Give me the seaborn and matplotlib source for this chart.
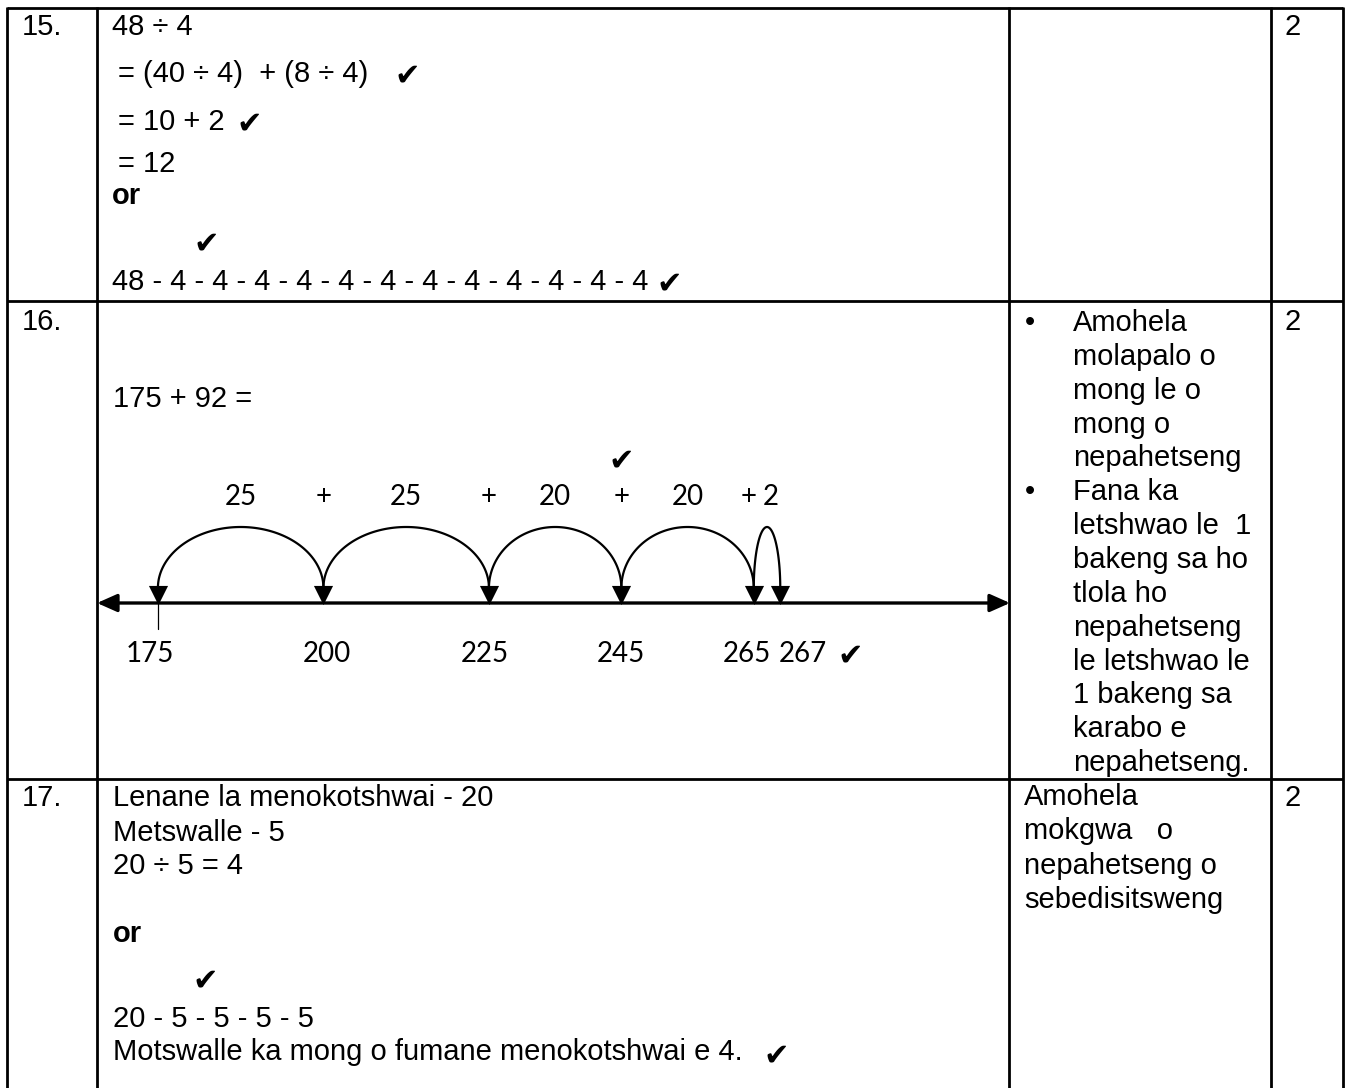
import numpy as np
import matplotlib
matplotlib.use("Agg")
import matplotlib.pyplot as plt
import seaborn as sns

# number line data (question 16: 175 + 92)
marks = [175, 200, 225, 245, 265, 267]
jumps = [25, 25, 20, 20, 2]
line_lo, line_hi = 165.8, 301.7

# memo text
row15_lines = ["48 ÷ 4", "= (40 ÷ 4)  + (8 ÷ 4)", "= 10 + 2", "= 12", "or",
               "48 - 4 - 4 - 4 - 4 - 4 - 4 - 4 - 4 - 4 - 4 - 4 - 4"]
row16_sum = "175 + 92 ="
row16_notes = [["Amohela", "molapalo o", "mong le o", "mong o", "nepahetseng"],
               ["Fana ka", "letshwao le  1", "bakeng sa ho", "tlola ho", "nepahetseng",
                "le letshwao le", "1 bakeng sa", "karabo e", "nepahetseng."]]
row17_lines = ["Lenane la menokotshwai - 20", "Metswalle - 5", "20 ÷ 5 = 4", "or",
               "20 - 5 - 5 - 5 - 5", "Motswalle ka mong o fumane menokotshwai e 4."]
row17_notes = ["Amohela", "mokgwa   o", "nepahetseng o", "sebedisitsweng"]
question_nums = ["15.", "16.", "17."]
marks_awarded = ["2", "2", "2"]

sns.set_theme(style="white")
plt.rcParams["font.family"] = ["Liberation Sans", "DejaVu Sans"]
plt.rcParams["text.color"] = "black"

W, H = 1351, 1088
fig = plt.figure(figsize=(W / 100, H / 100), dpi=100)
fig.patch.set_facecolor("white")

ax = fig.add_axes([0, 0, 1, 1])
ax.set_xlim(0, W)
ax.set_ylim(H, 0)
ax.axis("off")

FS = 21
TICK = "✔"
TICK_FS = 22


def check(x, y):
    ax.text(x, y, TICK, fontsize=TICK_FS, family="DejaVu Sans", ha="left", va="baseline")


# table grid
cols = [7, 97, 1009, 1271, 1343]
rows = [8, 301, 779]
ax.vlines(cols, 7, H + 5, color="black", lw=2)
ax.hlines(rows, cols[0], cols[-1], color="black", lw=2)

# question numbers and marks
for num, mk, base in zip(question_nums, marks_awarded, [35, 330, 806]):
    ax.text(22, base, num, fontsize=FS, va="baseline")
    ax.text(1285, base, mk, fontsize=FS, va="baseline")

# row 15
r15_pos = [(112, 35), (118, 82), (118, 130), (118, 172), (112, 204), (112, 290)]
for txt, (x, y) in zip(row15_lines, r15_pos):
    ax.text(x, y, txt, fontsize=FS, va="baseline",
            fontweight="bold" if txt == "or" else "normal")
for x, y in [(394, 84), (236, 132), (193, 252), (656, 292)]:
    check(x, y)

# row 16
ax.text(113, 407, row16_sum, fontsize=FS, va="baseline")
i = 0
for group in row16_notes:
    ax.text(1030, 331 + i * 33.85, "•", fontsize=FS, ha="center", va="baseline")
    for ln in group:
        ax.text(1073, 331 + i * 33.85, ln, fontsize=FS, va="baseline")
        i += 1

# row 17
r17_pos = [806, 841, 874, 942, 1027, 1060]
for txt, y in zip(row17_lines, r17_pos):
    ax.text(113, y, txt, fontsize=FS, va="baseline",
            fontweight="bold" if txt == "or" else "normal")
check(192, 989)
check(763, 1064)
for k, ln in enumerate(row17_notes):
    ax.text(1024, 805 + k * 34.3, ln, fontsize=FS, va="baseline")


# number line axis (last 2-unit jump drawn wider, not to scale)
def fwd(v):
    v = np.asarray(v, dtype=float)
    return v + np.clip(v - 265, 0, 2)


def inv(u):
    u = np.asarray(u, dtype=float)
    return u - np.clip((u - 265) / 2, 0, 2)


nl = fig.add_axes([97 / W, 0, (1010 - 97) / W, 1])
nl.patch.set_alpha(0)
nl.set_xscale("function", functions=(fwd, inv))
nl.set_xlim(line_lo, line_hi)
nl.set_ylim(H, 0)
nl.axis("off")

LINE_Y, ARC_BASE, ARC_TOP = 603, 588, 527
nl.annotate("", xy=(1, LINE_Y), xytext=(0, LINE_Y), xycoords=nl.get_yaxis_transform(),
            textcoords=nl.get_yaxis_transform(),
            arrowprops=dict(arrowstyle="<|-|>,head_length=0.45,head_width=0.2",
                            lw=2.4, color="black", mutation_scale=27,
                            shrinkA=0, shrinkB=0))

t = np.linspace(0, np.pi, 120)
for a, b in zip(marks[:-1], marks[1:]):
    xs = a + (b - a) * (1 - np.cos(t)) / 2
    ys = ARC_BASE - (ARC_BASE - ARC_TOP) * np.sin(t)
    nl.plot(xs, ys, color="black", lw=1.6)

sns.scatterplot(x=marks, y=[(ARC_BASE + LINE_Y) / 2 - 1] * len(marks), marker="v",
                s=190, color="black", edgecolor="black", linewidth=0, ax=nl, zorder=5)
nl.plot([marks[0], marks[0]], [LINE_Y, 629], color="black", lw=0.9)

NFONT = ["Lato", "DejaVu Sans"]
NFS = 20
label_nudge = [-8, 3, -4, 0, -7, 23]
for m, dx in zip(marks, label_nudge):
    nl.annotate(str(m), xy=(m, 662), xytext=(dx * 0.72, 0), textcoords="offset points",
                ha="center", va="baseline", fontsize=NFS, family=NFONT)

for k, (a, b, j) in enumerate(zip(marks[:-1], marks[1:], jumps)):
    mid = inv((fwd(a) + fwd(b)) / 2)
    dx = 4 if k == len(jumps) - 1 else 0
    nl.annotate(str(j), xy=(mid, 505), xytext=(dx * 0.72, 0), textcoords="offset points",
                ha="center", va="baseline", fontsize=NFS, family=NFONT)
for k, m in enumerate(marks[1:-1]):
    dx = -5 if k == len(marks) - 3 else 0
    nl.annotate("+", xy=(m, 505), xytext=(dx * 0.72, 0), textcoords="offset points",
                ha="center", va="baseline", fontsize=NFS, family=NFONT)

nl.text(marks[3], 469, TICK, fontsize=TICK_FS, family="DejaVu Sans", ha="center", va="baseline")
nl.annotate(TICK, xy=(marks[-1], 664), xytext=(57 * 0.72, 0), textcoords="offset points",
            ha="left", va="baseline", fontsize=TICK_FS, family="DejaVu Sans")

fig.savefig("out.png", dpi=100, facecolor="white")
